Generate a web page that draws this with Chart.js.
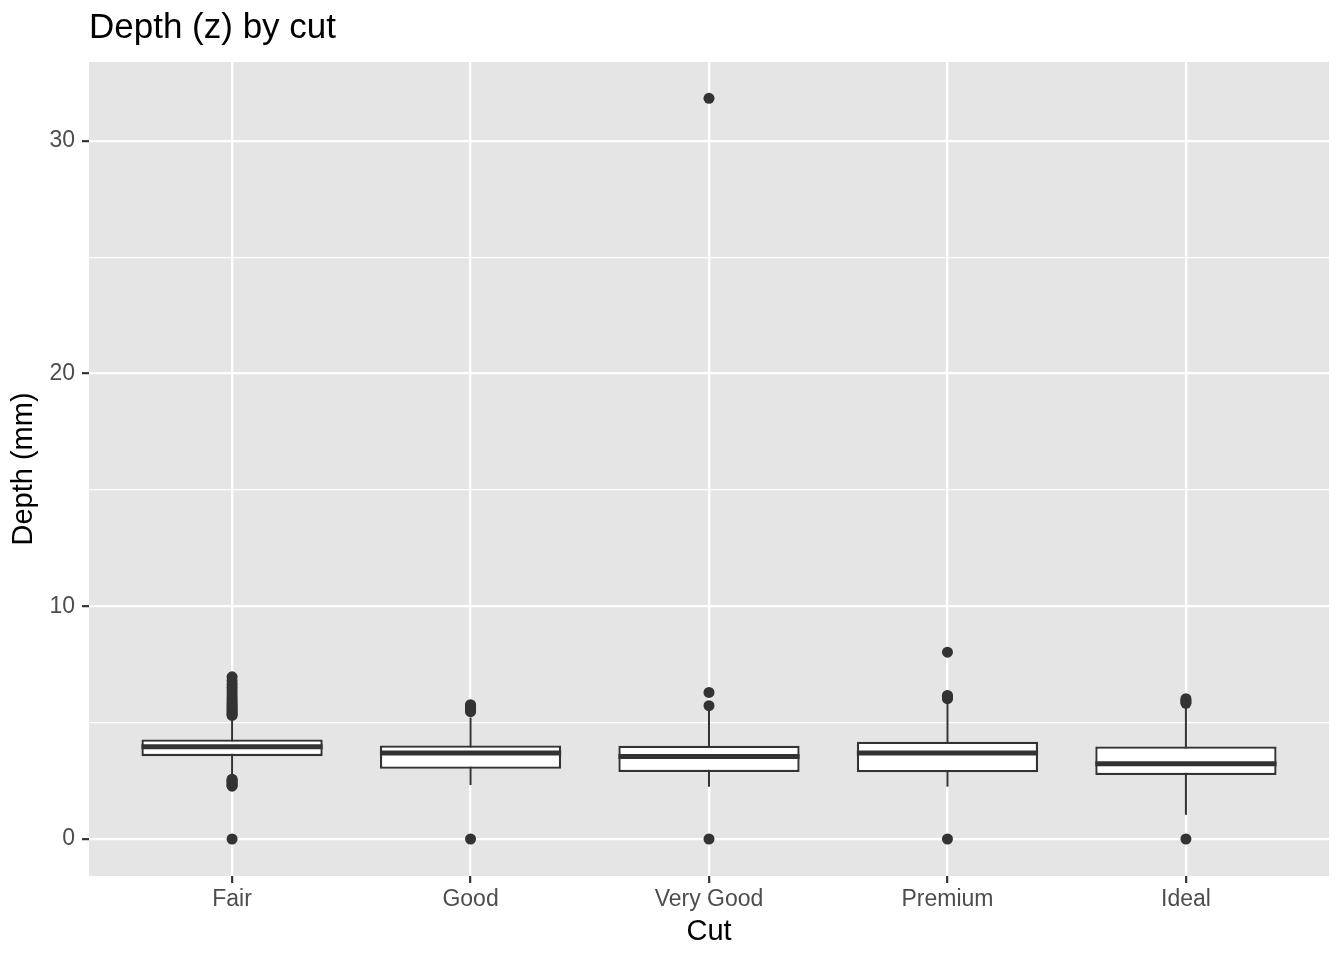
<!DOCTYPE html>
<html>
<head>
<meta charset="utf-8">
<script src="https://cdn.jsdelivr.net/npm/chart.js@4"></script>
<style>
  body { margin: 0; background: #ffffff; }
  #wrap { width: 1344px; height: 960px; }
</style>
</head>
<body>
<div id="wrap"><canvas id="depth" width="1344" height="960"></canvas></div>
<script>
// box statistics per cut
const cuts = ['Fair', 'Good', 'Very Good', 'Premium', 'Ideal']
const lowerWhisker = [2.62, 2.32, 2.25, 2.25, 1.04]
const q1 = [3.56, 3.02, 2.88, 2.87, 2.75]
const medians = [3.96, 3.70, 3.54, 3.70, 3.23]
const q3 = [4.28, 4.02, 4.01, 4.18, 3.98]
const upperWhisker = [5.28, 5.22, 5.55, 5.98, 5.77]

const fairOutliers = [0, 2.27, 2.31, 2.36, 2.42, 2.48, 2.53, 2.57,
  5.31, 5.36, 5.42, 5.48, 5.55, 5.62, 5.70, 5.78, 5.86, 5.95, 6.05,
  6.16, 6.28, 6.40, 6.52, 6.65, 6.80, 6.97]
const goodOutliers = [0, 5.47, 5.52, 5.58, 5.66, 5.73, 5.77]
const veryGoodOutliers = [0, 5.73, 6.30, 31.83]
const premiumOutliers = [0, 6.03, 6.08, 6.13, 6.17, 8.03]
const idealOutliers = [0, 5.83, 5.89, 5.96, 6.03]
const outliers = [fairOutliers, goodOutliers, veryGoodOutliers, premiumOutliers, idealOutliers]

const yMajor = [0, 10, 20, 30]
const yMinor = [5, 15, 25]

const dark = '#333333'

let boxData = cuts.map((c, i) => ({x: i, y: [q1[i], q3[i]]}))
let whiskerData = cuts.map((c, i) => ({x: i, y: [lowerWhisker[i], upperWhisker[i]]}))
let outlierData = []
outliers.forEach((list, i) => {
  for (const v of list) outlierData.push({x: i, y: v})
})

// grey panel behind the grid
const panelPlugin = {
  id: 'panel',
  beforeDraw(chart) {
    const {ctx, chartArea: a} = chart
    ctx.save()
    ctx.fillStyle = '#E5E5E5'
    ctx.fillRect(a.left, a.top, a.right - a.left, a.bottom - a.top)
    ctx.restore()
  }
}

// median line across each box
const medianPlugin = {
  id: 'medians',
  afterDatasetsDraw(chart) {
    const meta = chart.getDatasetMeta(1)
    const yScale = chart.scales.y
    const ctx = chart.ctx
    ctx.save()
    ctx.strokeStyle = dark
    ctx.lineWidth = 5
    meta.data.forEach((bar, i) => {
      const {x, width} = bar.getProps(['x', 'width'], true)
      const y = yScale.getPixelForValue(medians[i])
      ctx.beginPath()
      ctx.moveTo(x - width / 2, y)
      ctx.lineTo(x + width / 2, y)
      ctx.stroke()
    })
    ctx.restore()
  }
}

const fontFamily = '"Liberation Sans", Arial, Helvetica, sans-serif'

const ctx = document.getElementById('depth').getContext('2d')
const depthChart = new Chart(ctx, {
  type: 'bar',
  data: {
    datasets: [{
      type: 'scatter',
      data: outlierData,
      pointRadius: 5.5,
      pointHoverRadius: 5.5,
      pointBackgroundColor: dark,
      pointBorderWidth: 0,
      order: 1
    }, {
      data: boxData,
      backgroundColor: '#ffffff',
      borderColor: dark,
      borderWidth: 2.3,
      borderSkipped: false,
      grouped: false,
      categoryPercentage: 1,
      barPercentage: 0.76,
      order: 2
    }, {
      data: whiskerData,
      backgroundColor: dark,
      borderWidth: 0,
      grouped: false,
      maxBarThickness: 2,
      order: 3
    }]
  },
  options: {
    responsive: false,
    animation: false,
    devicePixelRatio: 1,
    layout: {
      padding: {left: 0, right: 15, top: 0, bottom: 0}
    },
    plugins: {
      legend: {display: false},
      tooltip: {enabled: false},
      title: {
        display: true,
        text: 'Depth (z) by cut',
        align: 'start',
        fullSize: false,
        color: '#000000',
        font: {family: fontFamily, size: 35, weight: 'normal'},
        padding: {top: 7, bottom: 13}
      }
    },
    scales: {
      x: {
        type: 'linear',
        min: -0.6,
        max: 4.6,
        offset: false,
        afterBuildTicks: axis => { axis.ticks = cuts.map((c, i) => ({value: i})) },
        afterFit: axis => { axis.height = 84 },
        ticks: {
          callback: v => cuts[v],
          color: '#4D4D4D',
          font: {family: fontFamily, size: 23},
          padding: 3,
          maxRotation: 0,
          autoSkip: false
        },
        grid: {
          offset: false,
          color: '#ffffff',
          lineWidth: 2.3,
          tickColor: dark,
          tickLength: 7,
          tickWidth: 2.2
        },
        border: {display: false},
        title: {
          display: true,
          text: 'Cut',
          color: '#000000',
          font: {family: fontFamily, size: 29},
          padding: {top: 0, bottom: 11}
        }
      },
      y: {
        min: -1.59,
        max: 33.39,
        afterBuildTicks: axis => {
          axis.ticks = yMajor.concat(yMinor).sort((a, b) => a - b).map(v => ({value: v}))
        },
        afterFit: axis => { axis.width = 89 },
        ticks: {
          callback: v => yMajor.includes(v) ? String(v) : '',
          color: '#4D4D4D',
          font: {family: fontFamily, size: 23},
          padding: 7
        },
        grid: {
          color: '#ffffff',
          lineWidth: c => yMajor.includes(c.tick.value) ? 2.3 : 1.2,
          tickColor: c => yMajor.includes(c.tick.value) ? dark : 'rgba(0,0,0,0)',
          tickLength: 7,
          tickWidth: 2.2
        },
        border: {display: false},
        title: {
          display: true,
          text: 'Depth (mm)',
          color: '#000000',
          font: {family: fontFamily, size: 29},
          padding: {top: 7, bottom: 0}
        }
      }
    }
  },
  plugins: [panelPlugin, medianPlugin]
})
</script>
</body>
</html>
